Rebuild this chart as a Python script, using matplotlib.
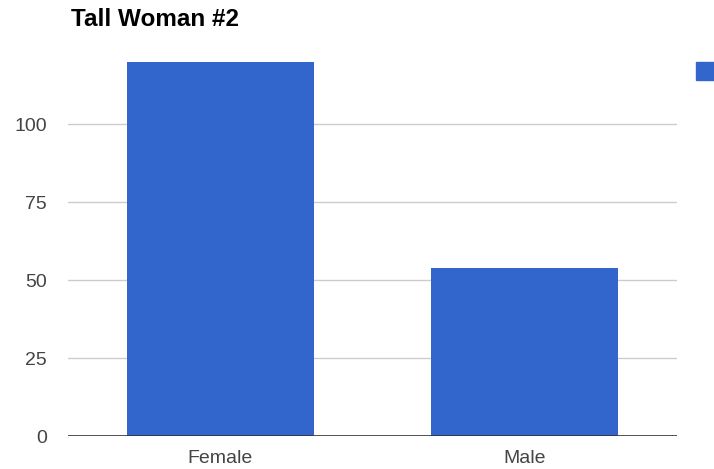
import matplotlib
matplotlib.use("Agg")
import matplotlib.pyplot as plt
from matplotlib.patches import Rectangle

categories = ["Female", "Male"]
values = [120, 54]
yticks = [0, 25, 50, 75, 100]
title = "Tall Woman #2"

bar_color = "#3366cc"

plt.rcParams["font.family"] = ["Liberation Sans", "DejaVu Sans"]

fig = plt.figure(figsize=(7.14, 4.69), dpi=100)
ax = fig.add_axes([68 / 714, 1 - 436 / 469, (677 - 68) / 714, (436 - 62) / 469])

x = range(len(categories))
ax.bar(x, values, width=0.614, color=bar_color, zorder=3, clip_on=False)
ax.set_xlim(-0.5, len(categories) - 0.5)
ax.set_ylim(0, 120)

ax.set_yticks(yticks)
ax.set_yticklabels([str(t) for t in yticks])
ax.set_xticks(list(x))
ax.set_xticklabels(categories)
ax.tick_params(axis="both", length=0, labelsize=14, colors="#444444")
ax.tick_params(axis="y", pad=15)
ax.tick_params(axis="x", pad=10)

for t in yticks[1:]:
    ax.axhline(t, color="#cccccc", lw=1, zorder=1)
ax.axhline(0, color="#333333", lw=1.2, zorder=4)

for s in ax.spines.values():
    s.set_visible(False)

fig.text(71 / 714, 1 - 20 / 469, title, fontsize=17.5, fontweight="bold",
         color="#000000", va="center", ha="left")

# legend swatch, partly outside the canvas
fig.patches.append(Rectangle((696 / 714, 1 - 80 / 469), 19 / 714, 18 / 469,
                             transform=fig.transFigure, color=bar_color))

fig.savefig("out.png", dpi=100)
